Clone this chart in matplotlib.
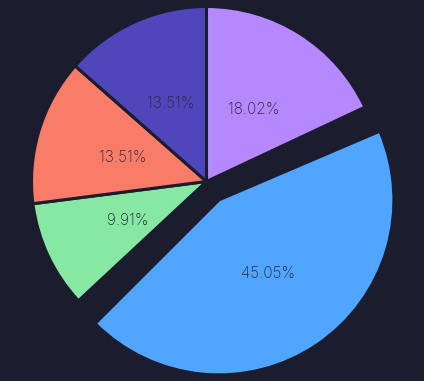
import matplotlib.pyplot as plt

# slice data (clockwise from 12 o'clock)
labels = ["Purple", "Blue", "Green", "Salmon", "Indigo"]
counts = [20, 50, 11, 15, 15]
colors = ["#b588fd", "#50a6fe", "#86e8a3", "#f87c68", "#4f46bb"]
explode = [0, 0.127, 0, 0, 0]

bg = "#1b1c2e"

fig = plt.figure(figsize=(4.24, 3.81), dpi=100, facecolor=bg)
ax = fig.add_axes([0, 0, 1, 1])
ax.set_facecolor(bg)

wedges, texts, autotexts = ax.pie(
    counts,
    colors=colors,
    explode=explode,
    startangle=90,
    counterclock=False,
    autopct="%1.2f%%",
    pctdistance=0.5,
    wedgeprops=dict(edgecolor=bg, linewidth=2.2),
    textprops=dict(color="#28283f", fontsize=11, family=["Inter", "DejaVu Sans"],
                   fontweight="light", va="center_baseline"),
)

# the pulled-out slice is drawn a bit narrower, like the offset arc in the original
for w, e in zip(wedges, explode):
    if e:
        w.set_theta1(w.theta1 + 2)
        w.set_theta2(w.theta2 - 2)

ax.set_xlim(-1.180, 1.243)
ax.set_ylim(-1.140, 1.037)
ax.set_aspect("equal")
ax.axis("off")

fig.savefig("out.png", dpi=100, facecolor=bg)
